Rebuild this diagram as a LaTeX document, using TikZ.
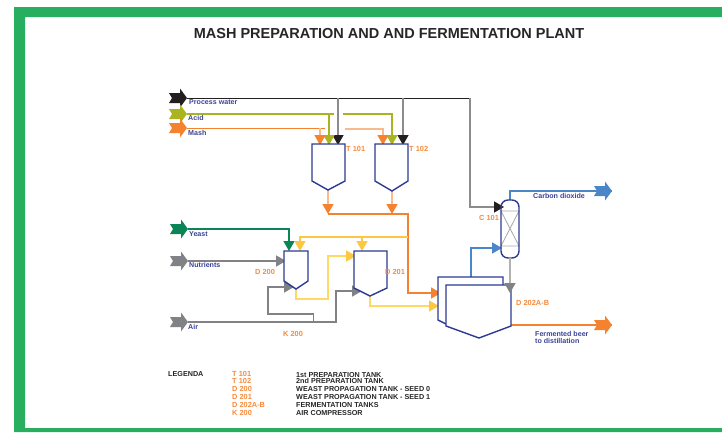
\documentclass[tikz,border=0pt]{standalone}
\usepackage{fontspec}
\setmainfont{Liberation Sans}
\usetikzlibrary{arrows.meta}
\definecolor{framegreen}{HTML}{27AE5F}
\definecolor{tankblue}{HTML}{2E3A92}
\definecolor{labelblue}{HTML}{3A4396}
\definecolor{tagorange}{HTML}{F58A3C}
\definecolor{mashorange}{HTML}{F5822F}
\definecolor{mashlight}{HTML}{F9B98C}
\definecolor{acidolive}{HTML}{A9B41E}
\definecolor{waterblack}{HTML}{231F20}
\definecolor{watergray}{HTML}{8C8C8C}
\definecolor{yeastgreen}{HTML}{0B8457}
\definecolor{airgray}{HTML}{808285}
\definecolor{seedyellow}{HTML}{FDC840}
\definecolor{seedlight}{HTML}{FFD966}
\definecolor{gasblue}{HTML}{4A86C8}
\tikzset{
	feed/.pic={\fill[#1] (-18,-5) -- (-7,-5) -- (-7,-9.5) -- (0,0) -- (-7,9.5) -- (-7,5) -- (-18,5) -- (-15,0) -- cycle;},
	tank/.style={draw=tankblue,line width=1.4pt,fill=white,line join=miter},
	pipe/.style={line width=#1},
	tip/.style={-{Triangle[length=10pt,width=11pt,color=#1]}},
	stream/.style={font=\fontsize{7.1}{8}\selectfont\bfseries,text=labelblue,anchor=west,inner sep=0pt},
	tag/.style={font=\fontsize{7.4}{8}\selectfont\bfseries,text=tagorange,anchor=west,inner sep=0pt},
	legend/.style={font=\fontsize{7.2}{8}\selectfont\bfseries,text=black!85,anchor=west,inner sep=0pt}
}
\begin{document}
\begin{tikzpicture}[x=1pt,y=-1pt]
	\useasboundingbox (0,0) rectangle (722,432);

	% frame
	\fill[framegreen] (14,7) -- (722,7) -- (722,17) -- (25,17) -- (25,428) -- (722,428) -- (722,432) -- (14,432) -- cycle;
	\node[inner sep=0pt,font=\fontsize{14.5}{16}\selectfont\bfseries,text=black!85] (title) at (389,33.5) {MASH PREPARATION AND AND FERMENTATION PLANT};

	% feeds
	\coordinate (water) at (187,98);
	\coordinate (acid) at (187,114);
	\coordinate (mash) at (187,128);
	\coordinate (yeast) at (188,229);
	\coordinate (nutrients) at (188,261);
	\coordinate (air) at (188,322);
	\coordinate (co2) at (612,191);
	\coordinate (beer) at (612,325);

	% tank connection points
	\coordinate (t101a) at (320,145);
	\coordinate (t101b) at (329,145);
	\coordinate (t101c) at (338,145);
	\coordinate (t101out) at (328,190);
	\coordinate (t102a) at (383,145);
	\coordinate (t102b) at (392,145);
	\coordinate (t102c) at (403,145);
	\coordinate (t102out) at (392,191);
	\coordinate (head1) at (328,214);
	\coordinate (head2) at (392,214);
	\coordinate (d200a) at (289,251);
	\coordinate (d200b) at (300,251);
	\coordinate (d200c) at (286,261);
	\coordinate (d200d) at (294,287);
	\coordinate (d200out) at (296,289);
	\coordinate (d201a) at (362,251);
	\coordinate (d201b) at (356,256);
	\coordinate (d201c) at (362,291);
	\coordinate (d201out) at (370,296);
	\coordinate (c101a) at (504,207);
	\coordinate (c101b) at (502,248);
	\coordinate (c101top) at (510,200);
	\coordinate (c101bot) at (510,258);
	\coordinate (d202a) at (441,293);
	\coordinate (d202b) at (439,306);
	\coordinate (d202c) at (510,293);
	\coordinate (d202gas) at (471,277);
	\coordinate (d202out) at (511,325);

	% process water
	\draw[pipe=1pt,waterblack] (water) -- (470,98);
	\draw[pipe=1.5pt,watergray] (470,98) |- (490,207);
	\draw[pipe=1.5pt,watergray,tip=waterblack] (490,207) -- (c101a);
	\draw[pipe=1.5pt,watergray,tip=waterblack] (t101c |- water) -- (t101c);
	\draw[pipe=1.5pt,watergray,tip=waterblack] (t102c |- water) -- (t102c);

	% acid
	\draw[pipe=1.5pt,acidolive] (acid) -- (334,114);
	\draw[pipe=1.5pt,acidolive,tip=acidolive] (t101b |- acid) -- (t101b);
	\draw[pipe=1.5pt,acidolive,tip=acidolive] (343,114) -| (t102b);

	% mash
	\draw[pipe=1pt,mashorange] (mash) -- (325,128);
	\draw[pipe=1.3pt,mashlight,tip=mashorange] (t101a |- mash) -- (t101a);
	\draw[pipe=1.3pt,mashlight,tip=mashorange] (345,129) -| (t102a);

	% tank outlets
	\draw[pipe=1.5pt,mashlight,tip=mashorange] (t101out) -- (head1);
	\draw[pipe=1.5pt,mashlight,tip=mashorange] (t102out) -- (head2);
	\draw[pipe=1.5pt,mashorange,tip=mashorange] (head1) -- (408,214) |- (d202a);

	% yeast, nutrients
	\draw[pipe=1.5pt,yeastgreen,tip=yeastgreen] (yeast) -| (d200a);
	\draw[pipe=1.5pt,airgray,tip=airgray] (nutrients) -- (d200c);

	% seed lines
	\draw[pipe=1.5pt,seedyellow,tip=seedyellow] (408,237) -| (d200b);
	\draw[pipe=1.5pt,seedyellow,tip=seedyellow] (d201a |- 408,237) -- (d201a);
	\draw[pipe=1.5pt,seedlight,tip=seedyellow] (d200out) |- (328,299) |- (d201b);
	\draw[pipe=1.5pt,seedlight,tip=seedyellow] (d201out) |- (d202b);

	% air
	\draw[pipe=1.5pt,airgray,tip=airgray] (air) -| (336,291) -- (d201c);
	\draw[pipe=1.5pt,airgray,tip=airgray] (313.5,322) |- (268,314) |- (d200d);

	% gas
	\draw[pipe=1.5pt,gasblue,tip=gasblue] (d202gas) |- (c101b);
	\draw[pipe=1.5pt,gasblue] (c101top) |- (co2);
	\draw[pipe=1.5pt,mashorange] (d202out) -- (beer);

	% tanks
	\draw[tank] (312,144) -- (345,144) -- (345,181) -- (t101out) -- (312,181) -- cycle;
	\draw[tank] (375,144) -- (408,144) -- (408,181) -- (t102out) -- (375,181) -- cycle;
	\draw[tank] (284,251) -- (308,251) -- (308,281) -- (d200out) -- (284,281) -- cycle;
	\draw[tank] (354,251) -- (387,251) -- (387,288) -- (d201out) -- (354,288) -- cycle;
	\draw[tank] (438,277) -- (503,277) -- (503,320) -- (446,324) -- (438,320) -- cycle;
	\draw[tank] (446,285) -- (511,285) -- (511,326) -- (479,338) -- (446,326) -- cycle;

	% column
	\draw[pipe=0.8pt,black!35] (501,211) -- (519,211) -- (501,246) -- (519,246) -- (501,211);
	\draw[tank,fill=none,rounded corners=7pt] (501,200) rectangle (519,258);

	% column drain goes over the tanks
	\draw[pipe=1.5pt,black!30,tip=airgray] (c101bot) -- (d202c);

	% outlet and feed arrows
	\path (water) pic {feed=waterblack};
	\path (acid) pic {feed=acidolive};
	\path (mash) pic {feed=mashorange};
	\path (yeast) pic {feed=yeastgreen};
	\path (nutrients) pic {feed=airgray};
	\path (air) pic {feed=airgray};
	\path (co2) pic {feed=gasblue};
	\path (beer) pic {feed=mashorange};

	% stream labels
	\node[stream] (lwater) at (189,102) {Process water};
	\node[stream] (lacid) at (188,118) {Acid};
	\node[stream] (lmash) at (188,133) {Mash};
	\node[stream] (lyeast) at (189,234) {Yeast};
	\node[stream] (lnutrients) at (189,265) {Nutrients};
	\node[stream] (lair) at (188,327) {Air};
	\node[stream] (lco2) at (533,196) {Carbon dioxide};
	\node[stream] (lbeer) at (535,334) {Fermented beer};
	\node[stream] (lbeerb) at (535,341) {to distillation};

	% tags
	\node[tag] (tt101) at (346,149) {T 101};
	\node[tag] (tt102) at (409,149) {T 102};
	\node[tag] (td200) at (255,272) {D 200};
	\node[tag] (td201) at (385,272) {D 201};
	\node[tag] (tk200) at (283,334) {K 200};
	\node[tag] (tc101) at (479,218) {C 101};
	\node[tag] (td202) at (516,303) {D 202A-B};

	% legend
	\node[legend] (legenda) at (168,374) {LEGENDA};
	\node[tag] (code1) at (232,374) {T 101};
	\node[tag] (code2) at (232,381) {T 102};
	\node[tag] (code3) at (232,389) {D 200};
	\node[tag] (code4) at (232,397) {D 201};
	\node[tag] (code5) at (232,405) {D 202A-B};
	\node[tag] (code6) at (232,413) {K 200};
	\node[legend] (text1) at (296,375) {1st PREPARATION TANK};
	\node[legend] (text2) at (296,381) {2nd PREPARATION TANK};
	\node[legend] (text3) at (296,389) {WEAST PROPAGATION TANK - SEED 0};
	\node[legend] (text4) at (296,397) {WEAST PROPAGATION TANK - SEED 1};
	\node[legend] (text5) at (296,405) {FERMENTATION TANKS};
	\node[legend] (text6) at (296,413) {AIR COMPRESSOR};
\end{tikzpicture}
\end{document}
